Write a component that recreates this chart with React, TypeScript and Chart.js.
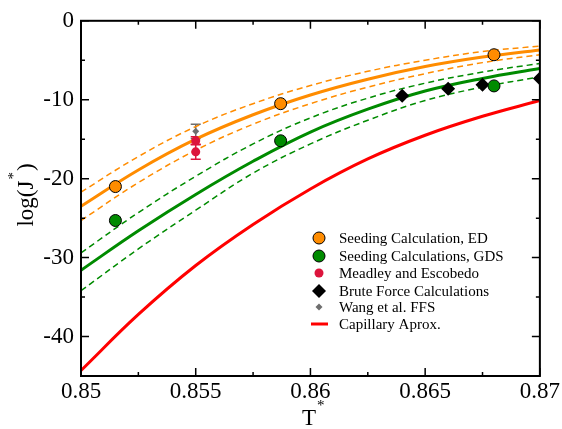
import React, { useEffect, useRef } from "react";
import { Chart, registerables } from "chart.js";
Chart.register(...registerables);

const FONT = "'Liberation Serif', 'Times New Roman', serif";

// Fitted curves, sampled along T*
const curveT = [0.85, 0.8525, 0.855, 0.8575, 0.86, 0.8625, 0.865, 0.8675, 0.87];
const edFit = [-23.5, -18.9, -15.0, -11.9, -9.4, -7.4, -5.8, -4.6, -3.7];
const edUpper = [-21.7, -17.2, -13.4, -10.5, -8.2, -6.4, -5.0, -3.9, -3.2];
const edLower = [-25.3, -20.5, -16.4, -13.1, -10.5, -8.4, -6.7, -5.3, -4.3];
const gdsFit = [-31.6, -26.6, -22.0, -17.8, -14.1, -11.2, -8.9, -7.3, -6.05];
const gdsUpper = [-29.4, -24.3, -19.7, -15.6, -12.3, -9.8, -7.9, -6.5, -5.4];
const gdsLower = [-34.2, -28.9, -24.0, -19.3, -15.6, -12.6, -10.1, -8.4, -7.1];
const capillary = [-44.3, -37.2, -31.0, -25.8, -21.3, -17.5, -14.5, -12.1, -10.1];

// Point data
const edT = [0.8515, 0.8587, 0.868];
const edV = [-21.0, -10.5, -4.3];
const gdsT = [0.8515, 0.8587, 0.868];
const gdsV = [-25.3, -15.2, -8.25];
const meadleyT = [0.855, 0.855];
const meadleyV = [-15.2, -16.6];
const meadleyErr = [0.5, 0.95];
const wangT = [0.855];
const wangV = [-14.0];
const wangErr = [0.9];
const bruteT = [0.864, 0.866, 0.8675, 0.87];
const bruteV = [-9.5, -8.6, -8.1, -7.3];

// Axis ticks
const xTickValues = [0.85, 0.855, 0.86, 0.865, 0.87];
const xMinorValues = [0.8525, 0.8575, 0.8625, 0.8675];
const yTickValues = [-40, -30, -20, -10, 0];
const yMinorValues = [-35, -25, -15, -5];

const legendLabels = [
  "Seeding Calculation, ED",
  "Seeding Calculations, GDS",
  "Meadley and Escobedo",
  "Brute Force Calculations",
  "Wang et al. FFS",
  "Capillary Aprox.",
];

const ORANGE = "#ff8c00";
const GREEN = "#008b00";
const RED = "#ff0000";
const CRIMSON = "#dc143c";
const GRAY = "#6e6e6e";

const pts = (xs: number[], ys: number[]) => xs.map((x, i) => ({ x, y: ys[i] }));

const errorBarPlugin = {
  id: "errorBars",
  beforeDatasetsDraw(chart: any) {
    const { ctx } = chart;
    const xs = chart.scales.x;
    const ys = chart.scales.y;
    chart.data.datasets.forEach((ds: any) => {
      if (!ds.errors) return;
      ctx.save();
      ctx.strokeStyle = ds.errColor;
      ctx.lineWidth = 1.5;
      ds.data.forEach((p: any, i: number) => {
        const e = ds.errors[i];
        const px = xs.getPixelForValue(p.x);
        const y1 = ys.getPixelForValue(p.y + e);
        const y2 = ys.getPixelForValue(p.y - e);
        ctx.beginPath();
        ctx.moveTo(px, y1);
        ctx.lineTo(px, y2);
        ctx.moveTo(px - 5, y1);
        ctx.lineTo(px + 5, y1);
        ctx.moveTo(px - 5, y2);
        ctx.lineTo(px + 5, y2);
        ctx.stroke();
      });
      ctx.restore();
    });
  },
};

const framePlugin = {
  id: "frame",
  afterDatasetsDraw(chart: any) {
    const { ctx, chartArea: a } = chart;
    const xs = chart.scales.x;
    const ys = chart.scales.y;
    ctx.save();
    ctx.strokeStyle = "#000";
    ctx.lineWidth = 2;
    ctx.strokeRect(a.left, a.top, a.right - a.left, a.bottom - a.top);
    ctx.lineWidth = 1.5;
    ctx.beginPath();
    const tickX = (v: number, len: number) => {
      const px = xs.getPixelForValue(v);
      ctx.moveTo(px, a.bottom);
      ctx.lineTo(px, a.bottom - len);
      ctx.moveTo(px, a.top);
      ctx.lineTo(px, a.top + len);
    };
    const tickY = (v: number, len: number) => {
      const py = ys.getPixelForValue(v);
      ctx.moveTo(a.left, py);
      ctx.lineTo(a.left + len, py);
      ctx.moveTo(a.right, py);
      ctx.lineTo(a.right - len, py);
    };
    xTickValues.forEach((v) => tickX(v, 8));
    xMinorValues.forEach((v) => tickX(v, 4));
    yTickValues.forEach((v) => tickY(v, 8));
    yMinorValues.forEach((v) => tickY(v, 4));
    ctx.stroke();
    ctx.restore();
  },
};

const annotPlugin = {
  id: "annot",
  afterDraw(chart: any) {
    const { ctx } = chart;
    ctx.save();
    ctx.fillStyle = "#000";
    // Y title: log(J*)
    ctx.translate(33, 195);
    ctx.rotate(-Math.PI / 2);
    ctx.textBaseline = "alphabetic";
    const a1 = "log(J";
    const a2 = ")";
    ctx.font = `23px ${FONT}`;
    const w1 = ctx.measureText(a1).width;
    const w2 = ctx.measureText(a2).width;
    ctx.font = `15px ${FONT}`;
    const ws = ctx.measureText("*").width + 2;
    const total = w1 + ws + w2;
    const x0 = -total / 2;
    ctx.font = `23px ${FONT}`;
    ctx.fillText(a1, x0, 0);
    ctx.font = `15px ${FONT}`;
    ctx.fillText("*", x0 + w1 + 1, -15);
    ctx.font = `23px ${FONT}`;
    ctx.fillText(a2, x0 + w1 + ws, 0);
    ctx.restore();

    // X title: T*
    ctx.save();
    ctx.fillStyle = "#000";
    ctx.textBaseline = "alphabetic";
    ctx.font = `23px ${FONT}`;
    const wt = ctx.measureText("T").width;
    ctx.fillText("T", 309 - wt / 2, 425);
    ctx.font = `15px ${FONT}`;
    ctx.fillText("*", 309 + wt / 2 + 1, 410);
    ctx.restore();

    // Legend
    ctx.save();
    const rows = [238, 256, 273, 291, 307, 324];
    const sx = 319;
    const tx = 339;
    ctx.font = `15px ${FONT}`;
    ctx.textBaseline = "middle";
    ctx.fillStyle = "#000";
    legendLabels.forEach((lab, i) => ctx.fillText(lab, tx, rows[i] + 1));
    const circle = (y: number, r: number, fill: string, stroke: string | null) => {
      ctx.beginPath();
      ctx.arc(sx, y, r, 0, Math.PI * 2);
      ctx.fillStyle = fill;
      ctx.fill();
      if (stroke) {
        ctx.strokeStyle = stroke;
        ctx.lineWidth = 1;
        ctx.stroke();
      }
    };
    const diamond = (y: number, r: number, fill: string) => {
      ctx.beginPath();
      ctx.moveTo(sx - r, y);
      ctx.lineTo(sx, y - r);
      ctx.lineTo(sx + r, y);
      ctx.lineTo(sx, y + r);
      ctx.closePath();
      ctx.fillStyle = fill;
      ctx.fill();
    };
    circle(rows[0], 6, ORANGE, "#000");
    circle(rows[1], 6, GREEN, "#000");
    circle(rows[2], 4.5, CRIMSON, null);
    diamond(rows[3], 7, "#000");
    diamond(rows[4], 3.5, GRAY);
    ctx.strokeStyle = RED;
    ctx.lineWidth = 3;
    ctx.beginPath();
    ctx.moveTo(311, rows[5]);
    ctx.lineTo(328, rows[5]);
    ctx.stroke();
    ctx.restore();
  },
};

export default function App() {
  const ref = useRef<HTMLCanvasElement | null>(null);
  useEffect(() => {
    if (!ref.current) return;
    const lineDs = (label: string, ys: number[], color: string, dashed: boolean) => ({
      type: "line",
      label,
      data: pts(curveT, ys),
      borderColor: color,
      backgroundColor: color,
      borderWidth: dashed ? 1.5 : 3,
      borderDash: dashed ? [6, 4] : [],
      pointRadius: 0,
      tension: 0.4,
      fill: false,
    });
    const chart = new Chart(ref.current, {
      type: "scatter",
      data: {
        datasets: [
          {
            label: "Wang et al. FFS",
            data: pts(wangT, wangV),
            pointStyle: "rectRot",
            pointRadius: 3.5,
            backgroundColor: GRAY,
            borderColor: GRAY,
            borderWidth: 0,
            errors: wangErr,
            errColor: GRAY,
          } as any,
          {
            label: "Meadley and Escobedo",
            data: pts(meadleyT, meadleyV),
            pointStyle: "circle",
            pointRadius: 4.5,
            backgroundColor: CRIMSON,
            borderColor: CRIMSON,
            borderWidth: 0,
            errors: meadleyErr,
            errColor: CRIMSON,
          } as any,
          {
            label: "Seeding Calculation, ED",
            data: pts(edT, edV),
            pointStyle: "circle",
            pointRadius: 6,
            backgroundColor: ORANGE,
            borderColor: "#000",
            borderWidth: 1,
          },
          {
            label: "Seeding Calculations, GDS",
            data: pts(gdsT, gdsV),
            pointStyle: "circle",
            pointRadius: 6,
            backgroundColor: GREEN,
            borderColor: "#000",
            borderWidth: 1,
          },
          {
            label: "Brute Force Calculations",
            data: pts(bruteT, bruteV),
            pointStyle: "rectRot",
            pointRadius: 7,
            backgroundColor: "#000",
            borderColor: "#000",
            borderWidth: 0,
          },
          lineDs("ED fit", edFit, ORANGE, false),
          lineDs("ED upper", edUpper, ORANGE, true),
          lineDs("ED lower", edLower, ORANGE, true),
          lineDs("GDS fit", gdsFit, GREEN, false),
          lineDs("GDS upper", gdsUpper, GREEN, true),
          lineDs("GDS lower", gdsLower, GREEN, true),
          lineDs("Capillary Aprox.", capillary, RED, false),
        ] as any,
      },
      options: {
        animation: false,
        responsive: false,
        devicePixelRatio: 1,
        layout: { padding: { top: 15, right: 21, left: 0, bottom: 0 } },
        plugins: {
          legend: { display: false },
          tooltip: { enabled: false },
        },
        scales: {
          x: {
            type: "linear",
            min: 0.85,
            max: 0.87,
            grid: { display: false, drawTicks: false },
            border: { display: false },
            afterBuildTicks: (s: any) => {
              s.ticks = xTickValues.map((v) => ({ value: v }));
            },
            afterFit: (s: any) => {
              s.height = 53;
            },
            ticks: {
              padding: 2,
              color: "#000",
              font: { family: FONT, size: 23 },
              maxRotation: 0,
              autoSkip: false,
              callback: (v: any) => parseFloat(Number(v).toFixed(4)).toString(),
            },
          },
          y: {
            type: "linear",
            min: -45,
            max: 0,
            grid: { display: false, drawTicks: false },
            border: { display: false },
            afterBuildTicks: (s: any) => {
              s.ticks = yTickValues.map((v) => ({ value: v }));
            },
            afterFit: (s: any) => {
              s.width = 81;
            },
            ticks: {
              padding: 7,
              color: "#000",
              font: { family: FONT, size: 23 },
              autoSkip: false,
              callback: (v: any) => String(v),
            },
          },
        },
      } as any,
      plugins: [errorBarPlugin, framePlugin, annotPlugin],
    });
    return () => chart.destroy();
  }, []);
  return (
    <div style={{ position: "absolute", left: 0, top: 0, width: 562, height: 429, background: "#fff" }}>
      <canvas ref={ref} width={562} height={429} style={{ width: 562, height: 429 }} />
    </div>
  );
}
